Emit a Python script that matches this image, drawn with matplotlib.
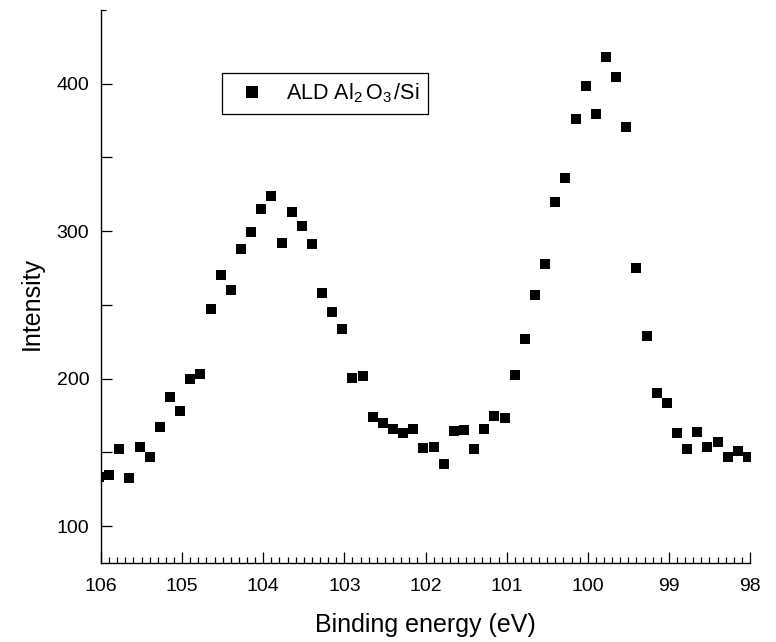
import matplotlib
matplotlib.use("Agg")
import matplotlib.pyplot as plt
from matplotlib.ticker import MultipleLocator, FixedLocator

plt.rcParams['font.family'] = ['Liberation Sans', 'DejaVu Sans']
plt.rcParams['mathtext.fontset'] = 'custom'
plt.rcParams['mathtext.rm'] = 'Liberation Sans'
plt.rcParams['mathtext.it'] = 'Liberation Sans'

# Data
binding_energy = [106.025, 105.9, 105.775, 105.65, 105.525, 105.4, 105.275, 105.15,
                  105.025, 104.9, 104.775, 104.65, 104.525, 104.4, 104.275, 104.15,
                  104.025, 103.9, 103.775, 103.65, 103.525, 103.4, 103.275, 103.15,
                  103.025, 102.9, 102.775, 102.65, 102.525, 102.4, 102.275, 102.15,
                  102.025, 101.9, 101.775, 101.65, 101.525, 101.4, 101.275, 101.15,
                  101.025, 100.9, 100.775, 100.65, 100.525, 100.4, 100.275, 100.15,
                  100.025, 99.9, 99.775, 99.65, 99.525, 99.4, 99.275, 99.15,
                  99.025, 98.9, 98.775, 98.65, 98.525, 98.4, 98.275, 98.15, 98.025]
intensity = [133.5, 135.0, 152.0, 132.4, 153.4, 146.6, 167.0, 187.6,
             178.0, 199.8, 203.0, 247.0, 270.2, 260.4, 287.8, 299.3,
             315.0, 324.0, 291.9, 313.3, 303.6, 291.2, 258.0, 245.0,
             234.0, 200.7, 201.6, 174.2, 169.7, 166.0, 163.3, 166.0,
             152.7, 153.4, 142.1, 164.5, 165.0, 152.3, 165.6, 174.7,
             173.5, 202.5, 226.7, 256.8, 277.8, 319.7, 336.0, 375.8,
             398.6, 379.8, 418.1, 404.5, 370.8, 275.3, 228.8, 190.5,
             183.3, 163.1, 152.5, 164.0, 153.4, 157.0, 146.8, 151.1, 147.0]
series_label = r'ALD Al$_{2}\,$O$_{3}\,$/Si'
x_ticks = [106, 105, 104, 103, 102, 101, 100, 99, 98]
y_ticks = [100, 150, 200, 250, 300, 350, 400]
y_tick_labels = ['100', '', '200', '', '300', '', '400']

fig = plt.figure(figsize=(7.76, 6.42), dpi=100)
ax = fig.add_axes([101/776, 1 - 563/642, 649/776, 553/642])

ax.plot(binding_energy, intensity, linestyle='none', marker='s', markersize=7.7,
        color='black', markeredgewidth=0, label=series_label)

ax.set_xlim(106, 98)
ax.set_ylim(75, 450)

ax.xaxis.set_major_locator(FixedLocator(x_ticks))
ax.xaxis.set_minor_locator(MultipleLocator(0.1))
ax.set_yticks(y_ticks)
ax.set_yticklabels(y_tick_labels)
ax.yaxis.set_minor_locator(FixedLocator([450]))

for side in ['top', 'right']:
    ax.spines[side].set_visible(False)
for side in ['left', 'bottom']:
    ax.spines[side].set_linewidth(1.0)

ax.tick_params(axis='both', which='major', direction='in', length=7.8, width=0.9,
               labelsize=14, color='black')
ax.tick_params(axis='x', which='major', pad=10.5)
ax.tick_params(axis='y', which='major', pad=8.4)
ax.tick_params(axis='both', which='minor', direction='in', length=4.3, width=0.9)
ax.tick_params(axis='y', which='minor', length=3.5)

ax.set_xlabel('Binding energy (eV)', fontsize=18, labelpad=13)
ax.set_ylabel('Intensity', fontsize=18)
ax.yaxis.set_label_coords(-0.088, 0.47)

leg = ax.legend(loc='upper left', bbox_to_anchor=(121/649, 490/553), borderaxespad=0,
                fontsize=15.5, frameon=True, fancybox=False, shadow=False,
                borderpad=0.4, handlelength=2.0, handletextpad=0.55, markerscale=1.18)
leg.get_frame().set_edgecolor('black')
leg.get_frame().set_linewidth(0.9)
leg.get_frame().set_alpha(1)

fig.savefig('out.png', dpi=100)
